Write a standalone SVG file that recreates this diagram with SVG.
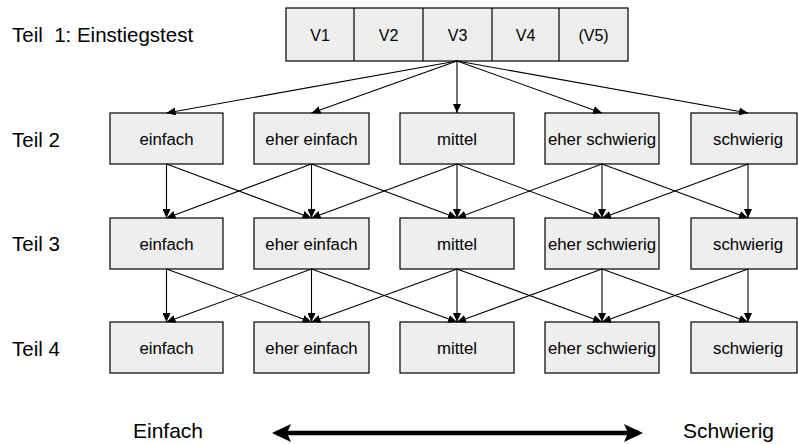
<svg xmlns="http://www.w3.org/2000/svg" width="798" height="444" viewBox="0 0 798 444">
  <style>
    text { font-family: "Liberation Sans", Arial, sans-serif; fill: #000; }
    .box { fill: #eeeeee; stroke: #000; stroke-width: 1.2; }
    .lbl { font-size: 16.8px; text-anchor: middle; }
    .vlbl { font-size: 16px; text-anchor: middle; }
    .row { font-size: 20.5px; }
    .end { font-size: 21px; }
    .conn { stroke: #000; stroke-width: 1.1; fill: none; marker-end: url(#head); }
  </style>
  <defs>
    <marker id="head" markerUnits="userSpaceOnUse" viewBox="0 0 9 8" markerWidth="9" markerHeight="8" refX="9" refY="4" orient="auto">
      <path d="M0,0 L9,4 L0,8 z" fill="#000"/>
    </marker>
    <marker id="big" markerUnits="userSpaceOnUse" viewBox="0 0 19 18" markerWidth="19" markerHeight="18" refX="15" refY="9" orient="auto-start-reverse">
      <path d="M0,0 L19,9 L0,18 L4,9 z" fill="#000"/>
    </marker>
  </defs>

  <!-- row labels -->
  <g id="labels">
    <text class="row" x="12" y="42" xml:space="preserve">Teil  1: Einstiegstest</text>
    <text class="row" x="12" y="147">Teil 2</text>
    <text class="row" x="12" y="251">Teil 3</text>
    <text class="row" x="12" y="356">Teil 4</text>
  </g>

  <!-- entry test versions -->
  <g id="versions">
    <rect class="box" x="286" y="8" width="342" height="53"/>
    <line x1="354" y1="8" x2="354" y2="61" stroke="#000" stroke-width="1.2"/>
    <line x1="423" y1="8" x2="423" y2="61" stroke="#000" stroke-width="1.2"/>
    <line x1="492" y1="8" x2="492" y2="61" stroke="#000" stroke-width="1.2"/>
    <line x1="559" y1="8" x2="559" y2="61" stroke="#000" stroke-width="1.2"/>
    <text class="vlbl" x="320" y="41">V1</text>
    <text class="vlbl" x="388.5" y="41">V2</text>
    <text class="vlbl" x="457.5" y="41">V3</text>
    <text class="vlbl" x="525.5" y="41">V4</text>
    <text class="vlbl" x="593.5" y="41">(V5)</text>
  </g>

  <!-- Teil 2 -->
  <g id="t2-einfach"><rect class="box" x="110" y="113" width="113" height="51"/><text class="lbl" x="166.5" y="145">einfach</text></g>
  <g id="t2-eher-einfach"><rect class="box" x="254" y="113" width="115" height="51"/><text class="lbl" x="311.5" y="145">eher einfach</text></g>
  <g id="t2-mittel"><rect class="box" x="400" y="113" width="114" height="51"/><text class="lbl" x="457" y="145">mittel</text></g>
  <g id="t2-eher-schwierig"><rect class="box" x="545" y="113" width="114" height="51"/><text class="lbl" x="602" y="145">eher schwierig</text></g>
  <g id="t2-schwierig"><rect class="box" x="691" y="113" width="106" height="51"/><text class="lbl" x="748" y="145">schwierig</text></g>

  <!-- Teil 3 -->
  <g id="t3-einfach"><rect class="box" x="110" y="218" width="113" height="51"/><text class="lbl" x="166.5" y="250">einfach</text></g>
  <g id="t3-eher-einfach"><rect class="box" x="254" y="218" width="115" height="51"/><text class="lbl" x="311.5" y="250">eher einfach</text></g>
  <g id="t3-mittel"><rect class="box" x="400" y="218" width="114" height="51"/><text class="lbl" x="457" y="250">mittel</text></g>
  <g id="t3-eher-schwierig"><rect class="box" x="545" y="218" width="114" height="51"/><text class="lbl" x="602" y="250">eher schwierig</text></g>
  <g id="t3-schwierig"><rect class="box" x="691" y="218" width="106" height="51"/><text class="lbl" x="748" y="250">schwierig</text></g>

  <!-- Teil 4 -->
  <g id="t4-einfach"><rect class="box" x="110" y="322" width="113" height="51"/><text class="lbl" x="166.5" y="354">einfach</text></g>
  <g id="t4-eher-einfach"><rect class="box" x="254" y="322" width="115" height="51"/><text class="lbl" x="311.5" y="354">eher einfach</text></g>
  <g id="t4-mittel"><rect class="box" x="400" y="322" width="114" height="51"/><text class="lbl" x="457" y="354">mittel</text></g>
  <g id="t4-eher-schwierig"><rect class="box" x="545" y="322" width="114" height="51"/><text class="lbl" x="602" y="354">eher schwierig</text></g>
  <g id="t4-schwierig"><rect class="box" x="691" y="322" width="106" height="51"/><text class="lbl" x="748" y="354">schwierig</text></g>

  <!-- connectors -->
  <g id="connectors">
    <!-- entry test to Teil 2 -->
    <line class="conn" x1="457" y1="61" x2="166.5" y2="113"/>
    <line class="conn" x1="457" y1="61" x2="311.5" y2="113"/>
    <line class="conn" x1="457" y1="61" x2="457" y2="113"/>
    <line class="conn" x1="457" y1="61" x2="602" y2="113"/>
    <line class="conn" x1="457" y1="61" x2="748" y2="113"/>

    <!-- Teil 2 to Teil 3 -->
    <line class="conn" x1="166.5" y1="164" x2="166.5" y2="218"/>
    <line class="conn" x1="166.5" y1="164" x2="311.5" y2="218"/>
    <line class="conn" x1="311.5" y1="164" x2="166.5" y2="218"/>
    <line class="conn" x1="311.5" y1="164" x2="311.5" y2="218"/>
    <line class="conn" x1="311.5" y1="164" x2="457" y2="218"/>
    <line class="conn" x1="457" y1="164" x2="311.5" y2="218"/>
    <line class="conn" x1="457" y1="164" x2="457" y2="218"/>
    <line class="conn" x1="457" y1="164" x2="602" y2="218"/>
    <line class="conn" x1="602" y1="164" x2="457" y2="218"/>
    <line class="conn" x1="602" y1="164" x2="602" y2="218"/>
    <line class="conn" x1="602" y1="164" x2="748" y2="218"/>
    <line class="conn" x1="748" y1="164" x2="602" y2="218"/>
    <line class="conn" x1="748" y1="164" x2="748" y2="218"/>

    <!-- Teil 3 to Teil 4 -->
    <line class="conn" x1="166.5" y1="269" x2="166.5" y2="322"/>
    <line class="conn" x1="166.5" y1="269" x2="311.5" y2="322"/>
    <line class="conn" x1="311.5" y1="269" x2="166.5" y2="322"/>
    <line class="conn" x1="311.5" y1="269" x2="311.5" y2="322"/>
    <line class="conn" x1="311.5" y1="269" x2="457" y2="322"/>
    <line class="conn" x1="457" y1="269" x2="311.5" y2="322"/>
    <line class="conn" x1="457" y1="269" x2="457" y2="322"/>
    <line class="conn" x1="457" y1="269" x2="602" y2="322"/>
    <line class="conn" x1="602" y1="269" x2="457" y2="322"/>
    <line class="conn" x1="602" y1="269" x2="602" y2="322"/>
    <line class="conn" x1="602" y1="269" x2="748" y2="322"/>
    <line class="conn" x1="748" y1="269" x2="602" y2="322"/>
    <line class="conn" x1="748" y1="269" x2="748" y2="322"/>
  </g>

  <!-- difficulty scale -->
  <g id="scale">
    <text class="end" x="133" y="438">Einfach</text>
    <text class="end" x="683" y="438">Schwierig</text>
    <line x1="276" y1="433" x2="639" y2="433" stroke="#000" stroke-width="4.5" marker-start="url(#big)" marker-end="url(#big)"/>
  </g>
</svg>
